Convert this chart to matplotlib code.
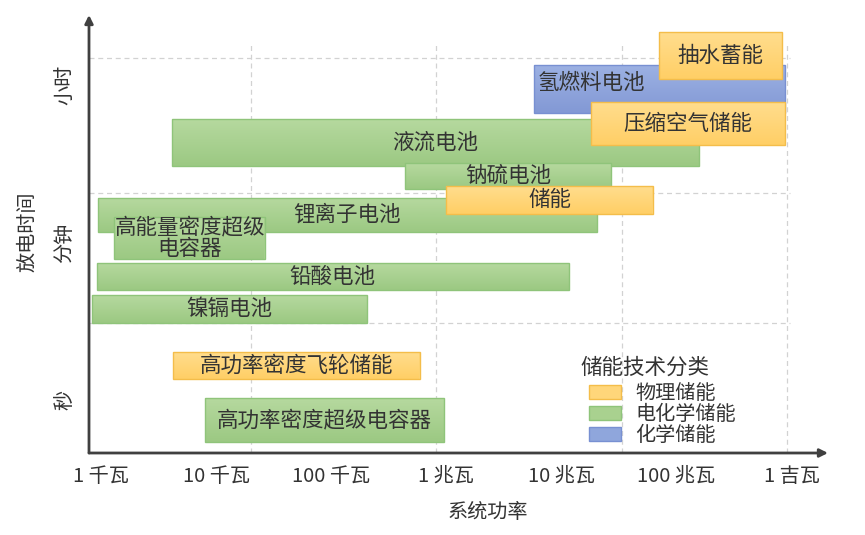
import matplotlib
matplotlib.use('Agg')
import matplotlib.pyplot as plt
import numpy as np
from matplotlib.patches import Rectangle, Patch
from matplotlib.colors import LinearSegmentedColormap
from matplotlib.legend_handler import HandlerPatch

plt.rcParams['font.family'] = ['Noto Sans CJK SC', 'DejaVu Sans']

# ---------------- data ----------------
# technologies (drawing order), category, power range (kW), discharge-time level range
names = ['液流电池', '氢燃料电池', '压缩空气储能', '抽水蓄能',
         '锂离子电池', '钠硫电池', '储能', '高能量密度超级\n电容器',
         '铅酸电池', '镍镉电池', '高功率密度飞轮储能', '高功率密度超级电容器']
kinds = ['电化学储能', '化学储能', '物理储能', '物理储能',
         '电化学储能', '电化学储能', '物理储能', '电化学储能',
         '电化学储能', '电化学储能', '物理储能', '电化学储能']
p_low = [4.14, 5800, 18000, 70000,
         0.94, 437, 1000, 1.30,
         0.92, 0.836, 4.23, 8.0]
p_high = [157000, 880000, 880000, 830000,
          20400, 27000, 62500, 26.6,
          11600, 205, 590, 955]
t_low = [2.208, 2.615, 2.369, 2.877,
         1.700, 2.031, 1.838, 1.492,
         1.254, 1.000, 0.569, 0.085]
t_high = [2.569, 2.985, 2.700, 3.238,
          1.962, 2.231, 2.054, 1.815,
          1.462, 1.215, 0.777, 0.423]

categories = ['物理储能', '电化学储能', '化学储能']
x_ticks = [1, 10, 100, 1e3, 1e4, 1e5, 1e6]
x_ticklabels = ['1 千瓦', '10 千瓦', '100 千瓦', '1 兆瓦', '10 兆瓦', '100 兆瓦', '1 吉瓦']
y_ticks = [0.408, 1.615, 2.83]
y_ticklabels = ['秒', '分钟', '小时']
v_grid = [10 ** 1.30, 10 ** 2.91, 10 ** 4.53, 10 ** 5.96]
h_grid = [1.0, 2.0, 3.04]

# ---------------- style ----------------
face = {'物理储能': '#ffd67a', '电化学储能': '#a9d18f', '化学储能': '#8fa6dc'}
top_c = {'物理储能': '#ffdd8e', '电化学储能': '#b6d99f', '化学储能': '#9cb1e3'}
bot_c = {'物理储能': '#ffcf66', '电化学储能': '#9cc983', '化学储能': '#8399d5'}
edge = {'物理储能': '#f4bd4a', '电化学储能': '#8fc47a', '化学储能': '#7890d2'}
txt_color = '#333333'
fs = 15.5

W, H = 865, 535
fig = plt.figure(figsize=(W / 100, H / 100), dpi=100)
ax = fig.add_axes([89 / W, 1 - 453 / H, (828 - 89) / W, (453 - 15) / H])
ax.set_xscale('log')
XLIM = (10 ** -0.104, 10 ** 6.316)
YLIM = (0, 3.369)
ax.set_xlim(*XLIM)
ax.set_ylim(*YLIM)
for s in ax.spines.values():
    s.set_visible(False)

# grid
for gx in v_grid:
    ax.plot([gx, gx], [0, 3.16], ls=(0, (4, 3)), color='#d2d2d2', lw=0.9, zorder=0)
for gy in h_grid:
    ax.plot([XLIM[0], 10 ** 5.986], [gy, gy], ls=(0, (4, 3)), color='#d2d2d2', lw=0.9, zorder=0)

# bars
grad = np.linspace(0, 1, 64).reshape(-1, 1)
z = 2
for n, k, x0, x1, y0, y1 in zip(names, kinds, p_low, p_high, t_low, t_high):
    cmap = LinearSegmentedColormap.from_list('g', [bot_c[k], top_c[k]])
    r = Rectangle((x0, y0), x1 - x0, y1 - y0, facecolor=face[k], edgecolor='none', zorder=z)
    ax.add_patch(r)
    im = ax.imshow(grad, extent=(x0, x1, y0, y1), origin='lower', cmap=cmap,
                   aspect='auto', interpolation='bilinear', zorder=z + 0.1)
    im.set_clip_path(r)
    ax.add_patch(Rectangle((x0, y0), x1 - x0, y1 - y0, facecolor='none',
                           edgecolor=edge[k], lw=1.0, zorder=z + 0.2))
    if n == '氢燃料电池':
        ax.text(x0 * 10 ** (4 / 115.1), 2.846, n, ha='left', va='center', fontsize=fs,
                color=txt_color, zorder=z + 0.5)
    else:
        ax.text((x0 * x1) ** 0.5, (y0 + y1) / 2, n, ha='center', va='center', fontsize=fs,
                color=txt_color, zorder=z + 0.5, linespacing=1.0)
    z += 1

ax.set_xlim(*XLIM)
ax.set_ylim(*YLIM)

# axes with arrows
arrow = dict(arrowstyle='-|>', color='#404040', lw=2, mutation_scale=12, shrinkA=0, shrinkB=0)
ax.annotate('', xy=(0, 1), xytext=(0, 0), xycoords='axes fraction', arrowprops=arrow, zorder=50)
ax.annotate('', xy=(1, 0), xytext=(0, 0), xycoords='axes fraction', arrowprops=arrow, zorder=50)

ax.set_xticks(x_ticks)
ax.set_xticklabels(x_ticklabels, fontsize=14.5, color=txt_color)
ax.minorticks_off()
ax.set_yticks(y_ticks)
ax.set_yticklabels(y_ticklabels, fontsize=14.5, color=txt_color, rotation=90, va='center')
ax.tick_params(axis='x', length=0, pad=9)
ax.tick_params(axis='y', length=0, pad=10)

ax.set_xlabel('系统功率', fontsize=14.5, color=txt_color)
ax.xaxis.set_label_coords((488 - 89) / 739, -(512 - 453) / 438)
ax.xaxis.label.set_va('center')
ax.set_ylabel('放电时间', fontsize=14.5, color=txt_color)
ax.yaxis.set_label_coords((28 - 89) / 739, (453 - 232) / 438)
ax.yaxis.label.set_va('center')


def shifted_patch(legend, orig_handle, xdescent, ydescent, width, height, fontsize):
    # patch inset 9 px from the left of the handle box, 32 px wide, 14 px tall
    h = 14 * 0.72
    return Rectangle((-xdescent + 9 * 0.72, -ydescent + (height - h) / 2), 32 * 0.72, h)


leg_fs = 14.5
handles = [Patch(facecolor=face[c], edgecolor=edge[c], lw=1.0) for c in categories]
leg = ax.legend(handles, categories, title='储能技术分类', loc='upper left',
                bbox_to_anchor=(580 / W, 1 - 357 / H), bbox_transform=fig.transFigure,
                frameon=False, fontsize=leg_fs, title_fontsize=fs, handlelength=41 / 20.1,
                handleheight=0.7, handletextpad=0.7, labelspacing=0.0,
                borderpad=0, borderaxespad=0, alignment='left', labelcolor=txt_color,
                handler_map={Patch: HandlerPatch(patch_func=shifted_patch)})
leg.get_title().set_color(txt_color)
leg._legend_box.sep = 3
leg.set_zorder(60)

fig.savefig('out.png', dpi=100)
